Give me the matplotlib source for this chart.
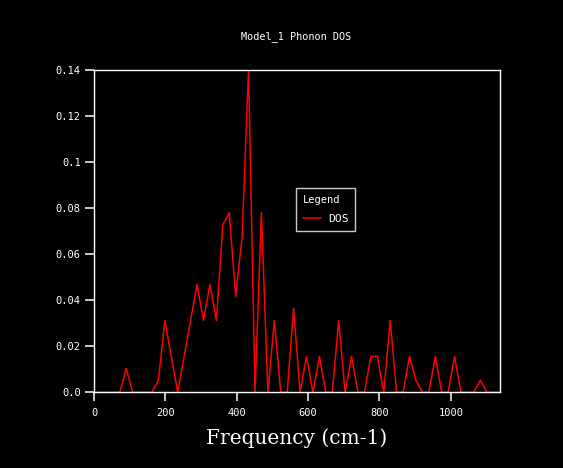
import matplotlib
matplotlib.use("Agg")
import matplotlib.pyplot as plt

# phonon DOS (frequency grid in cm-1)
freq = [0.0, 18.0, 36.1, 54.2, 72.2, 90.3, 108.3, 126.4, 144.4, 162.5,
        180.5, 198.6, 216.6, 234.7, 252.7, 270.8, 288.8, 306.9, 324.9, 343.0,
        361.0, 379.1, 397.1, 415.2, 433.2, 451.3, 469.3, 487.4, 505.4, 523.5,
        541.5, 559.6, 577.6, 595.7, 613.7, 631.8, 649.8, 667.9, 685.9, 704.0,
        722.0, 740.1, 758.1, 776.2, 794.2, 812.3, 830.3, 848.4, 866.4, 884.5,
        902.5, 920.6, 938.6, 956.7, 974.7, 992.8, 1010.8, 1028.9, 1046.9, 1065.0,
        1083.0, 1101.1, 1119.1, 1137.2]
dos = [0, 0, 0, 0, 0, 0.0104, 0, 0, 0, 0,
       0.0052, 0.0312, 0.0156, 0, 0.0156, 0.0312, 0.0468, 0.0312, 0.0468, 0.0312,
       0.0728, 0.0780, 0.0416, 0.0676, 0.1404, 0, 0.0780, 0, 0.0312, 0,
       0, 0.0364, 0, 0.0156, 0, 0.0156, 0, 0, 0.0312, 0,
       0.0156, 0, 0, 0.0156, 0.0156, 0, 0.0312, 0, 0, 0.0156,
       0.0052, 0, 0, 0.0156, 0, 0, 0.0156, 0, 0, 0,
       0.0052, 0, 0, 0]

xticks = [0, 200, 400, 600, 800, 1000]
yticks = [0, 0.02, 0.04, 0.06, 0.08, 0.1, 0.12, 0.14]
ylabels = ["0.0", "0.02", "0.04", "0.06", "0.08", "0.1", "0.12", "0.14"]

mono = "DejaVu Sans Mono"

fig = plt.figure(figsize=(5.63, 4.68), dpi=100, facecolor="black")
ax = fig.add_axes([0.167, 0.1617, 0.7205, 0.6893], facecolor="black")

ax.plot(freq, dos, color="#ff0000", lw=1.1, label="DOS")

ax.set_xlim(0, 1137.2)
ax.set_ylim(0, 0.14)
ax.set_xticks(xticks)
ax.set_xticklabels([str(t) for t in xticks], family=mono, fontsize=7.5, color="white")
ax.set_yticks(yticks)
ax.set_yticklabels(ylabels, family=mono, fontsize=7.5, color="white")
ax.tick_params(colors="white", direction="out", length=6.5, width=1.1, pad=3)
ax.tick_params(axis="x", pad=5)
for s in ax.spines.values():
    s.set_color("white")
    s.set_linewidth(1.0)

ax.set_xlabel("Frequency (cm-1)", family="DejaVu Serif", fontsize=14.5,
              color="white", labelpad=7)
fig.text(0.526, 0.922, "Model_1 Phonon DOS", family=mono, fontsize=7.3,
         color="white", ha="center", va="center")

leg = ax.legend(title="Legend", loc="upper left", bbox_to_anchor=(0.499, 0.632),
                borderaxespad=0, frameon=True, fancybox=False,
                prop={"family": mono, "size": 8.2}, handlelength=1.6,
                handletextpad=0.55, borderpad=0.6, labelspacing=0.8,
                alignment="left")
leg.get_frame().set_facecolor("black")
leg.get_frame().set_edgecolor("white")
leg.get_frame().set_linewidth(1.0)
leg.get_title().set_color("white")
leg.get_title().set_family(mono)
leg.get_title().set_fontsize(7.5)
for t in leg.get_texts():
    t.set_color("white")

fig.savefig("out.png", dpi=100, facecolor="black")
